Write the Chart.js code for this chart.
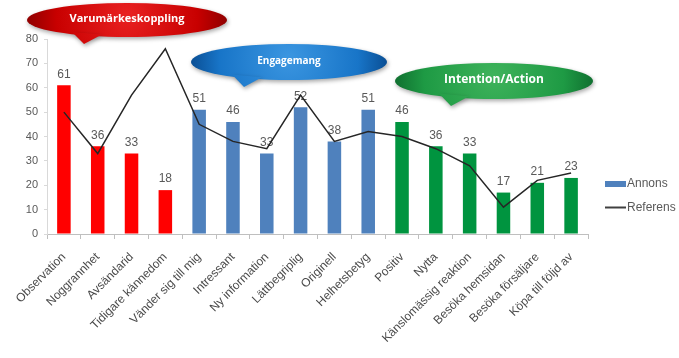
<!DOCTYPE html>
<html>
<head>
<meta charset="utf-8">
<script src="https://cdn.jsdelivr.net/npm/chart.js@4.4.1/dist/chart.umd.min.js"></script>
<style>
html,body{margin:0;padding:0;background:#fff;}
#wrap{width:679px;height:358px;position:relative;}
</style>
</head>
<body>
<div id="wrap"><canvas id="c" width="679" height="358"></canvas></div>
<script>
const categories = ["Observation","Noggrannhet","Avsändarid","Tidigare kännedom","Vänder sig till mig","Intressant","Ny information","Lättbegriplig","Originell","Helhetsbetyg","Positiv","Nytta","Känslomässig reaktion","Besöka hemsidan","Besöka försäljare","Köpa till följd av"];
const annons = [61,36,33,18,51,46,33,52,38,51,46,36,33,17,21,23];
const referens = [50,33,57,76,45,38,35,57,38,42,40,35,28,11,22,25];
const groupOf = [0,0,0,0,1,1,1,1,1,1,2,2,2,2,2,2];
const groupNames = ["Varumärkeskoppling","Engagemang","Intention/Action"];
const groupColors = ["#FF0000","#4F81BD","#00943F"];
const yMin = 0, yMax = 80, yStep = 10;

Chart.defaults.font.family = "'Liberation Sans', Arial, sans-serif";

const barLabels = {
  id: 'barLabels',
  afterDatasetDraw(chart, args) {
    if (args.index !== 1) return;
    const ctx = chart.ctx;
    ctx.save();
    ctx.font = "12px 'Liberation Sans', Arial, sans-serif";
    ctx.fillStyle = '#595959';
    ctx.textAlign = 'center';
    ctx.textBaseline = 'bottom';
    args.meta.data.forEach((el, i) => {
      ctx.fillText(String(annons[i]), el.x, el.y - 5);
    });
    ctx.restore();
  }
};

function bubble(ctx, cx, cy, rx, ry, tipX, tipY, c1, c2, c3, text, fs, bold) {
  ctx.save();
  ctx.shadowColor = 'rgba(0,0,0,0.35)';
  ctx.shadowBlur = 4;
  ctx.shadowOffsetX = 1;
  ctx.shadowOffsetY = 2;
  const g = ctx.createRadialGradient(cx, cy - ry*0.3, 2, cx, cy, rx);
  g.addColorStop(0, c1);
  g.addColorStop(0.7, c2);
  g.addColorStop(1, c3);
  ctx.fillStyle = g;
  ctx.beginPath();
  ctx.ellipse(cx, cy, rx, ry, 0, 0, Math.PI*2);
  ctx.fill();
  ctx.beginPath();
  ctx.moveTo(tipX - 8, cy + ry*0.7);
  ctx.lineTo(tipX + 22, cy + ry*0.85);
  ctx.lineTo(tipX + 4, tipY);
  ctx.closePath();
  ctx.fill();
  ctx.restore();
  ctx.save();
  ctx.fillStyle = '#ffffff';
  ctx.font = (bold ? 'bold ' : '') + fs + "px 'Open Sans', 'Liberation Sans', sans-serif";
  ctx.textAlign = 'center';
  ctx.textBaseline = 'middle';
  ctx.fillText(text, cx, cy - 1);
  ctx.restore();
}

const extras = {
  id: 'extras',
  afterDraw(chart) {
    const ctx = chart.ctx;
    bubble(ctx, 127, 20, 100, 17, 80, 44, '#E82020', '#C80000', '#900000', groupNames[0], 11, true);
    bubble(ctx, 289, 62, 98, 18, 240, 87, '#3A95E0', '#1875C8', '#0A4F95', groupNames[1], 10, true);
    bubble(ctx, 494, 81, 99, 18, 447, 106, '#3DB25A', '#1E9A44', '#107030', groupNames[2], 12, true);
    // legend
    ctx.save();
    ctx.fillStyle = '#4F81BD';
    ctx.fillRect(605, 181, 21, 6);
    ctx.strokeStyle = '#404040';
    ctx.lineWidth = 2;
    ctx.beginPath();
    ctx.moveTo(605, 207.5);
    ctx.lineTo(626, 207.5);
    ctx.stroke();
    ctx.fillStyle = '#595959';
    ctx.font = "12px 'Liberation Sans', Arial, sans-serif";
    ctx.textAlign = 'left';
    ctx.textBaseline = 'middle';
    ctx.fillText('Annons', 627, 184);
    ctx.fillText('Referens', 627, 208);
    ctx.restore();
  }
};

new Chart(document.getElementById('c'), {
  data: {
    labels: categories,
    datasets: [
      {
        type: 'line',
        label: 'Referens',
        data: referens,
        borderColor: '#262626',
        borderWidth: 1.5,
        pointRadius: 0,
        tension: 0,
        order: 0
      },
      {
        type: 'bar',
        label: 'Annons',
        data: annons,
        backgroundColor: groupOf.map(g => groupColors[g]),
        categoryPercentage: 1,
        barPercentage: 0.4,
        order: 1
      }
    ]
  },
  options: {
    responsive: false,
    animation: false,
    layout: { padding: { left: 0, right: 91, top: 39, bottom: 0 } },
    plugins: { legend: { display: false }, tooltip: { enabled: false } },
    scales: {
      x: {
        grid: { display: true, drawOnChartArea: false, drawTicks: true, tickLength: 5, color: '#BFBFBF', offset: true },
        border: { display: true, color: '#BFBFBF' },
        ticks: { autoSkip: false, minRotation: 45, maxRotation: 45, color: '#4A4A4A', font: { size: 12 }, padding: 11 },
        afterFit(s) { s.height = 124; }
      },
      y: {
        min: yMin, max: yMax,
        grid: { display: true, drawOnChartArea: false, drawTicks: true, tickLength: 3, color: '#D9D9D9' },
        border: { display: true, color: '#D9D9D9' },
        ticks: { stepSize: yStep, color: '#595959', font: { size: 11 }, padding: 6 },
        afterFit(s) { s.width = 47; }
      }
    }
  },
  plugins: [barLabels, extras]
});
</script>
</body>
</html>
